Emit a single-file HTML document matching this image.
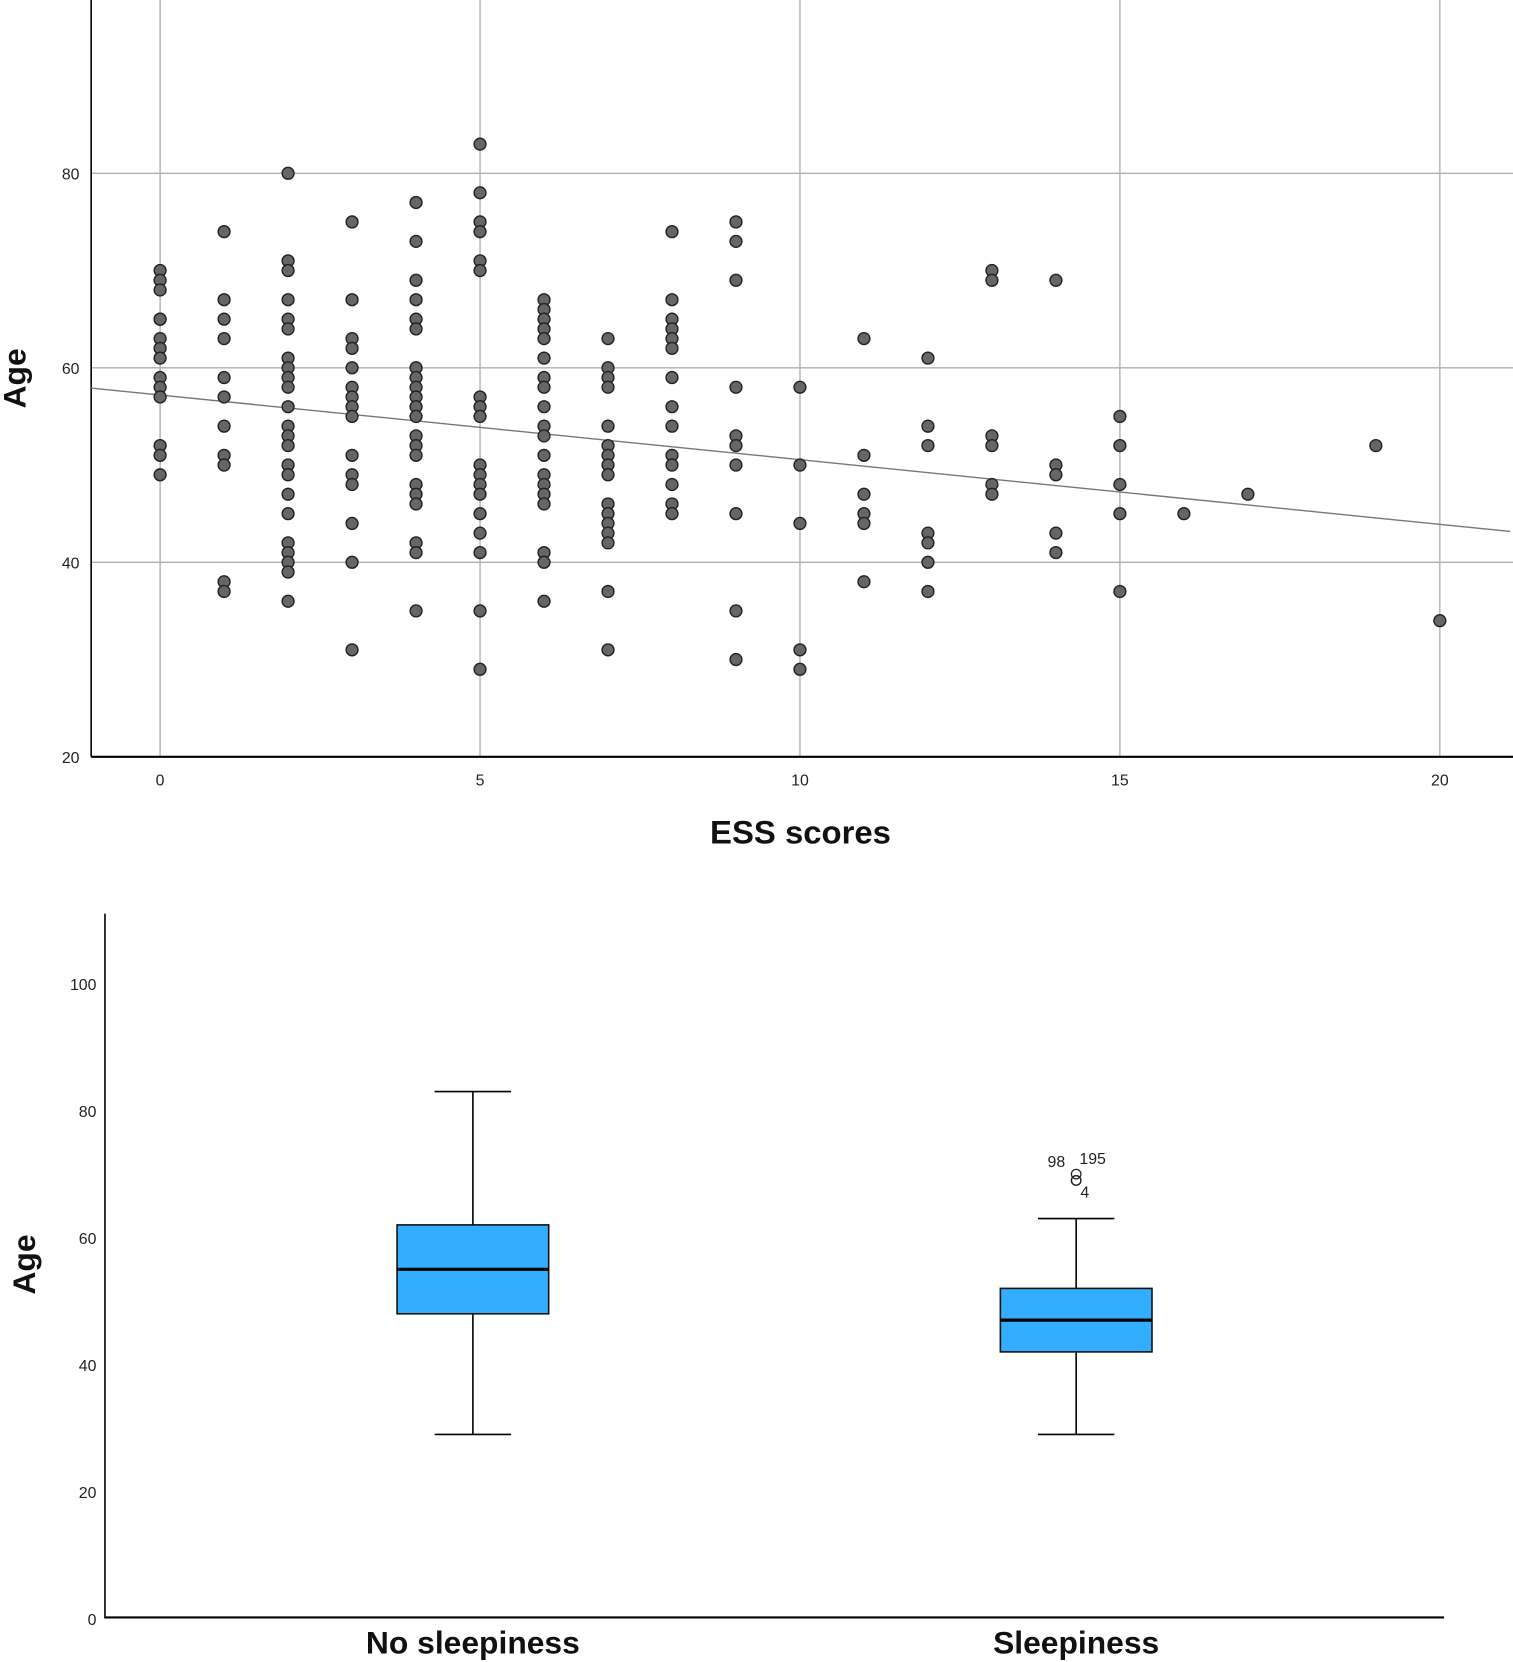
<!DOCTYPE html>
<html><head><meta charset="utf-8"><style>
html,body{margin:0;padding:0;background:#fff}
svg{display:block}
text{font-family:"Liberation Sans",Arial,sans-serif}
</style></head><body>
<svg id="fig" width="1513" height="1662" viewBox="0 0 1427 1568" preserveAspectRatio="none" xmlns="http://www.w3.org/2000/svg">
<g id="scatter"></g>
<g id="boxplot"></g>
</svg>
<script>
const essCols=[0,1,2,3,4,5,6,7,8,9,10,11,12,13,14,15,16,17,19,20];
const agesByEss=[
[70,69,68,65,65,63,62,61,59,58,57,52,51,49],
[74,67,65,63,59,57,54,51,50,38,37],
[80,71,70,67,65,64,61,60,59,58,56,54,53,52,50,49,47,45,42,41,40,39,36],
[75,67,63,62,60,58,57,56,55,51,49,48,44,40,31],
[77,73,69,67,65,64,60,59,58,57,56,55,53,52,51,48,47,46,42,41,35],
[83,78,75,74,71,70,57,56,55,50,49,48,47,45,43,41,35,29],
[67,66,65,64,63,61,59,58,56,54,53,51,49,48,47,46,41,40,36],
[63,60,59,58,54,52,51,50,49,46,45,44,43,42,37,31],
[74,67,65,64,63,62,59,56,54,51,50,48,46,45],
[75,73,69,58,53,52,50,45,35,30],
[58,50,44,31,29],
[63,51,47,45,44,38],
[61,54,52,43,42,40,37],
[70,69,53,52,48,47],
[69,50,49,43,41],
[55,52,48,45,37],
[45],[47],[52],[34]];
const xTicks=[0,5,10,15,20];
const yTicks=[20,40,60,80];
const fitIntercept=57.2;
const fitSlope=-0.665;

const boxCategories=["No sleepiness","Sleepiness"];
const boxWhiskLow=[29,29];
const boxQ1=[48,42];
const boxMedian=[55,47];
const boxQ3=[62,52];
const boxWhiskHigh=[83,63];
const outlierValues=[70,69,69];
const outlierLabels=["98","195","4"];
const boxYTicks=[0,20,40,60,80,100];

const NS="http://www.w3.org/2000/svg";
function mk(parent,tag,attrs,txt){const e=document.createElementNS(NS,tag);for(const k in attrs)e.setAttribute(k,attrs[k]);if(txt!==undefined)e.textContent=txt;parent.appendChild(e);return e;}

// scatter
const sc=document.getElementById('scatter');
const sx=v=>151+v*60.35;
const sy=v=>714-(v-20)*9.175;
const L=86,R=1427,B=714;
for(const t of xTicks){const g=mk(sc,'line',{x1:sx(t),x2:sx(t),y1:0,y2:B,stroke:'#b0b0b0','stroke-width':1.3});


const l=mk(sc,'text',{x:sx(t),y:741,'font-size':15,'text-anchor':'middle',fill:'#222'},String(t));

}
for(const t of yTicks){if(t>20){const g=mk(sc,'line',{x1:L,x2:R,y1:sy(t),y2:sy(t),stroke:'#b0b0b0','stroke-width':1.3});

}
const l=mk(sc,'text',{x:75,y:sy(t)+6,'font-size':15,'text-anchor':'end',fill:'#222'},String(t));

}
const ya=mk(sc,'line',{x1:L,x2:L,y1:0,y2:B,stroke:'#000','stroke-width':1.5});


const xa=mk(sc,'line',{x1:L,x2:R,y1:B,y2:B,stroke:'#000','stroke-width':2});


const x0=-1.08,x1=21.1;
const fit=mk(sc,'line',{x1:sx(x0),y1:sy(fitIntercept+fitSlope*x0),x2:sx(x1),y2:sy(fitIntercept+fitSlope*x1),stroke:'#777','stroke-width':1.3});


essCols.forEach((e,i)=>{for(const a of agesByEss[i]){const p=mk(sc,'circle',{cx:sx(e),cy:sy(a),r:5.6,fill:'#666',stroke:'#222','stroke-width':1.3});

}});
const xt=mk(sc,'text',{x:755,y:796,'font-size':31,'font-weight':'bold','text-anchor':'middle',fill:'#111'},'ESS scores');


const yt=mk(sc,'text',{x:0,y:0,'font-size':30,'font-weight':'bold','text-anchor':'middle',fill:'#111',transform:'translate(24,357) rotate(-90)'},'Age');



// boxplot
const bp=document.getElementById('boxplot');
const by=v=>1527-v*5.99;
const bxC=[446,1015];
const BL=99,BR=1362;
const bya=mk(bp,'line',{x1:BL,x2:BL,y1:862,y2:1527,stroke:'#000','stroke-width':1.5});


const bxa=mk(bp,'line',{x1:BL,x2:BR,y1:1526,y2:1526,stroke:'#000','stroke-width':2});


for(const t of boxYTicks){const l=mk(bp,'text',{x:91,y:by(t)+6,'font-size':15,'text-anchor':'end',fill:'#222'},String(t));

}
boxCategories.forEach((c,i)=>{const cx=bxC[i],hw=71.5,cw=36;
const g=mk(bp,'g',{});


mk(g,'line',{x1:cx,x2:cx,y1:by(boxWhiskHigh[i]),y2:by(boxQ3[i]),stroke:'#000','stroke-width':1.5});
mk(g,'line',{x1:cx,x2:cx,y1:by(boxQ1[i]),y2:by(boxWhiskLow[i]),stroke:'#000','stroke-width':1.5});
mk(g,'line',{x1:cx-cw,x2:cx+cw,y1:by(boxWhiskHigh[i]),y2:by(boxWhiskHigh[i]),stroke:'#000','stroke-width':1.5});
mk(g,'line',{x1:cx-cw,x2:cx+cw,y1:by(boxWhiskLow[i]),y2:by(boxWhiskLow[i]),stroke:'#000','stroke-width':1.5});
mk(g,'rect',{x:cx-hw,y:by(boxQ3[i]),width:hw*2,height:by(boxQ1[i])-by(boxQ3[i]),fill:'#33adff',stroke:'#111','stroke-width':1.5});
mk(g,'line',{x1:cx-hw,x2:cx+hw,y1:by(boxMedian[i]),y2:by(boxMedian[i]),stroke:'#000','stroke-width':3});
const l=mk(bp,'text',{x:cx,y:1560,'font-size':30,'font-weight':'bold','text-anchor':'middle',fill:'#111'},c);

});
outlierValues.forEach((v,i)=>{const o=mk(bp,'circle',{cx:bxC[1],cy:by(v),r:4.5,fill:'none',stroke:'#222','stroke-width':1.2});

});
const lp=[[988,1101,'start'],[1018,1098,'start'],[1019,1130,'start']];
outlierLabels.forEach((s,i)=>{const t=mk(bp,'text',{x:lp[i][0],y:lp[i][1],'font-size':15,fill:'#222'},s);

});
const byt=mk(bp,'text',{x:0,y:0,'font-size':30,'font-weight':'bold','text-anchor':'middle',fill:'#111',transform:'translate(33,1193) rotate(-90)'},'Age');


</script>
</body></html>
